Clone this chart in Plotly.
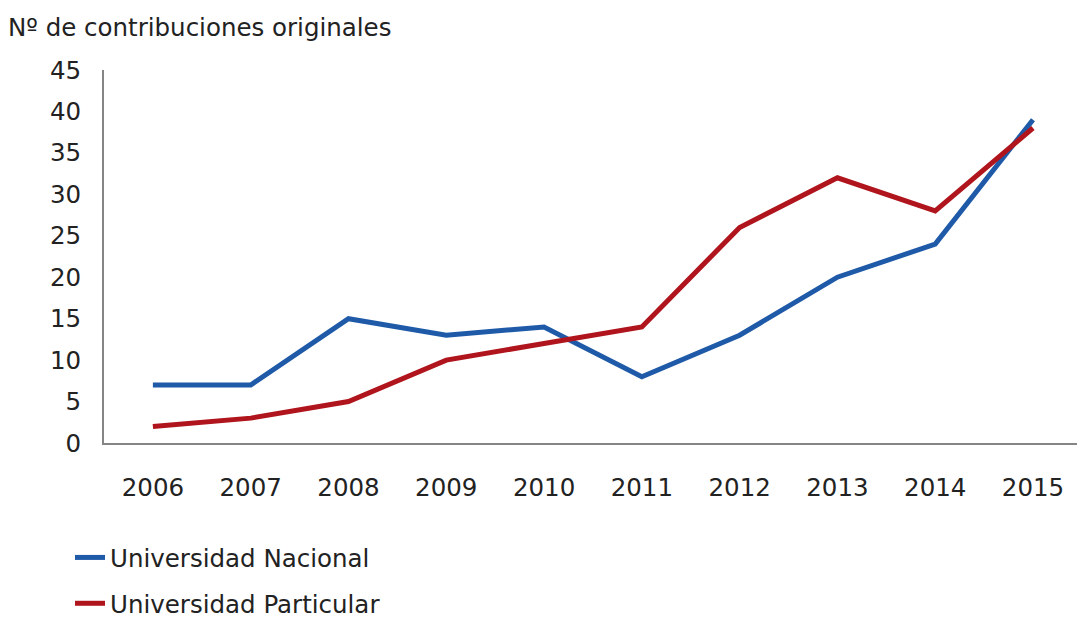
import plotly.graph_objects as go

years = ["2006", "2007", "2008", "2009", "2010", "2011", "2012", "2013", "2014", "2015"]
nacional = [7, 7, 15, 13, 14, 8, 13, 20, 24, 39]
particular = [2, 3, 5, 10, 12, 14, 26, 32, 28, 38]
y_ticks = [0, 5, 10, 15, 20, 25, 30, 35, 40, 45]

W, H = 1077, 619
FONT = "DejaVu Sans"
TXT = "#222222"
FS = 24.5

fig = go.Figure()
fig.add_trace(go.Scatter(x=years, y=nacional, mode="lines", name="Universidad Nacional",
                         line=dict(color="#1f5aa8", width=5), legendgroup="a"))
fig.add_trace(go.Scatter(x=years, y=particular, mode="lines", name="Universidad Particular",
                         line=dict(color="#b0141c", width=5), legendgroup="b"))

fig.update_layout(
    width=W, height=H,
    margin=dict(l=104, r=0, t=70, b=176, autoexpand=False),
    paper_bgcolor="white", plot_bgcolor="white",
    font=dict(family=FONT, size=FS, color=TXT),
    title=dict(text="Nº de contribuciones originales", x=8 / W, xanchor="left",
               y=1 - 27 / H, yanchor="middle", xref="container", yref="container",
               font=dict(family=FONT, size=FS, color=TXT)),
    showlegend=True,
    legend=dict(orientation="v", x=70 / W, xref="container", xanchor="left",
                y=1 - 535 / H, yref="container", yanchor="top",
                tracegroupgap=11, font=dict(family=FONT, size=FS, color=TXT),
                bgcolor="rgba(0,0,0,0)"),
    xaxis=dict(type="category", range=[-0.5, 9.45], showgrid=False, zeroline=False,
               showline=True, linecolor="#858585", linewidth=2,
               ticks="", ticklabelstandoff=22,
               tickfont=dict(family=FONT, size=FS, color=TXT)),
    yaxis=dict(range=[0, 45], tickvals=y_ticks, showgrid=False, zeroline=False,
               showline=True, linecolor="#858585", linewidth=2,
               ticks="", ticklabelstandoff=16,
               tickfont=dict(family=FONT, size=FS, color=TXT)),
)

fig.write_html("out.html")
